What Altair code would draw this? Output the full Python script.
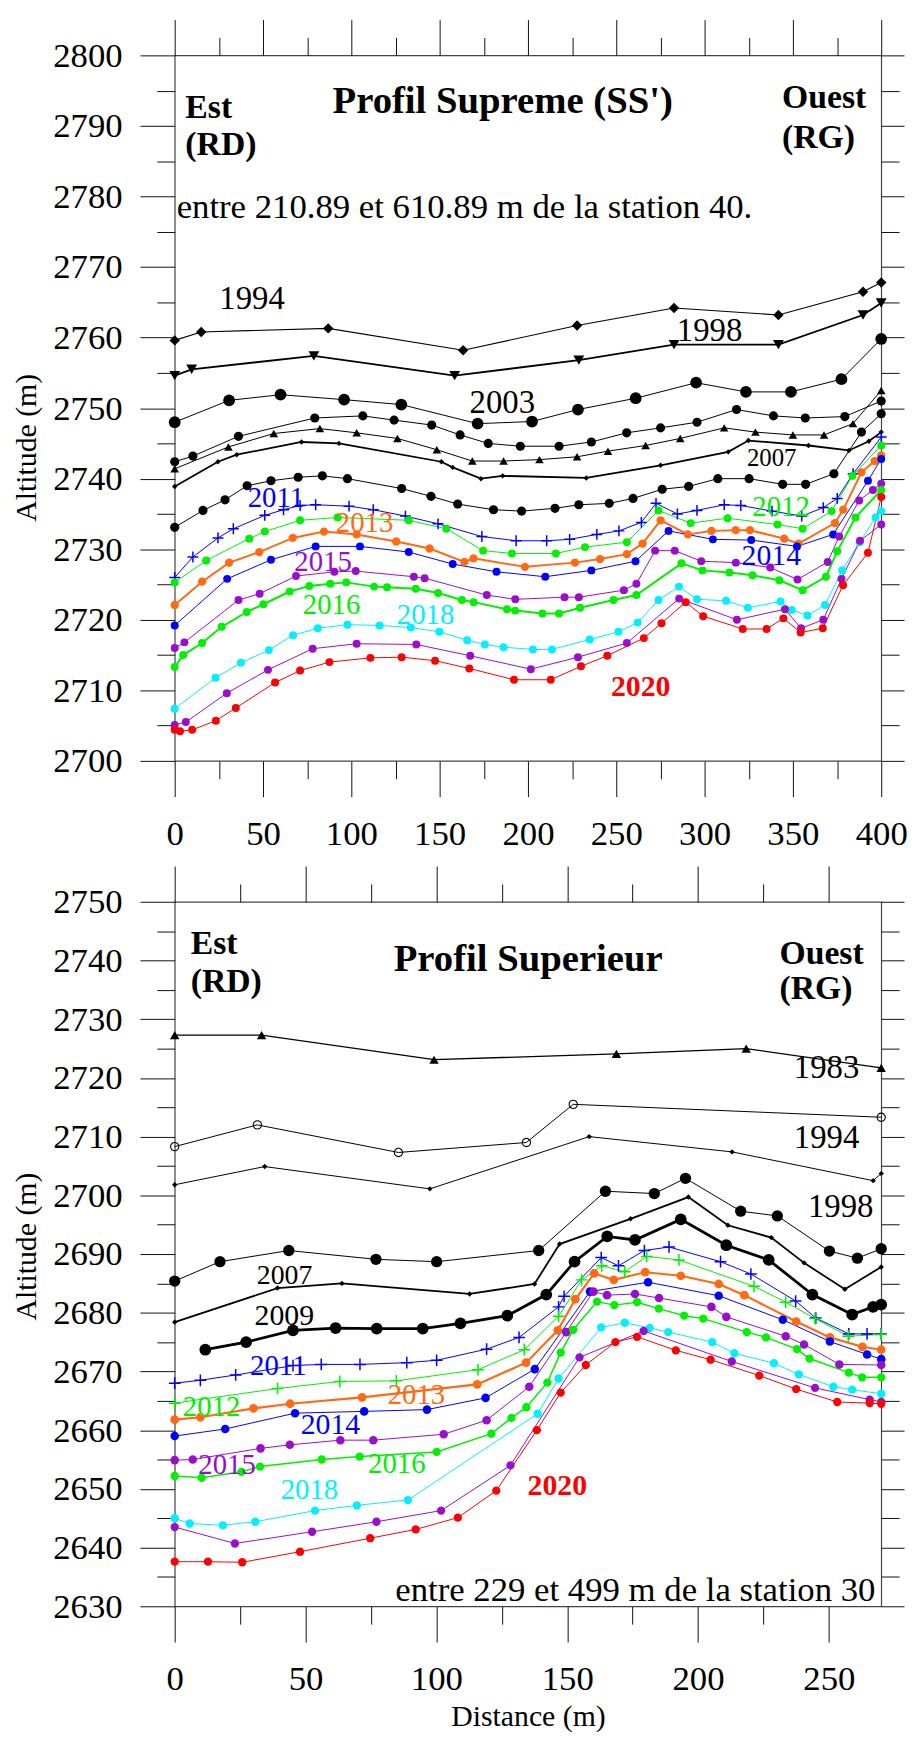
import altair as alt
import pandas as pd

FONT = "Liberation Serif"
BLACK = "#000000"
BLUE = "#0000ff"
GREEN = "#00f000"
ORANGE = "#ff6a13"
PURPLE = "#9a0dcc"
CYAN = "#00f0ff"
RED = "#ff0000"

# ---------------- top panel (Profil Supreme) ----------------
T1994_X = [0, 15.0, 86.9, 163.3, 227.8, 282.7, 341.8, 389.7, 400]
T1994_Y = [2759.6, 2760.8, 2761.3, 2758.2, 2761.7, 2764.2, 2763.2, 2766.5, 2767.8]
T1998_X = [0, 9.6, 78.8, 158.5, 228.8, 282.7, 341.8, 389.7, 400]
T1998_Y = [2754.6, 2755.5, 2757.4, 2754.6, 2756.8, 2759.0, 2759.0, 2763.2, 2764.9]
T2003_X = [0, 30.8, 59.9, 95.9, 128.3, 171.5, 202.3, 228.3, 261.0, 295.2, 323.4, 348.9, 377.5, 400]
T2003_Y = [2748.0, 2751.1, 2751.9, 2751.2, 2750.5, 2747.8, 2748.1, 2749.8, 2751.4, 2753.6, 2752.3, 2752.3, 2754.1, 2759.8]
T2005_X = [0, 10.3, 36.1, 79.3, 106.5, 124.2, 145.5, 161.6, 177.5, 195.7, 217.6, 235.9, 255.9, 275.1, 295.7, 318.1, 339.0, 357.0, 379.4, 400]
T2005_Y = [2742.4, 2743.2, 2746.0, 2748.6, 2748.9, 2748.3, 2747.6, 2746.2, 2745.0, 2744.6, 2744.6, 2745.2, 2746.5, 2747.2, 2748.0, 2749.8, 2748.9, 2748.6, 2748.8, 2751.0]
T2006_X = [0, 30.4, 56.1, 82.2, 103.0, 126.1, 148.4, 168.5, 186.2, 206.5, 227.8, 245.3, 266.6, 286.2, 311.1, 328.8, 350.0, 367.6, 384.0, 400]
T2006_Y = [2741.4, 2744.5, 2746.4, 2747.1, 2746.5, 2745.7, 2744.1, 2742.5, 2742.5, 2742.7, 2743.1, 2743.9, 2744.7, 2745.7, 2747.2, 2746.6, 2746.2, 2746.2, 2747.8, 2752.5]
T2007_X = [0, 24.5, 35.1, 71.8, 93.0, 151.0, 157.4, 173.4, 185.7, 233.0, 275.1, 313.4, 324.8, 358.8, 381.7, 393.0, 400]
T2007_Y = [2738.9, 2742.4, 2743.4, 2745.2, 2745.0, 2742.4, 2741.6, 2740.0, 2740.4, 2740.1, 2741.9, 2743.8, 2745.4, 2744.7, 2744.0, 2745.3, 2746.6]
T2010_X = [0, 16.0, 28.5, 41.0, 54.5, 69.9, 83.6, 97.8, 128.5, 145.1, 160.2, 180.5, 196.4, 215.3, 228.8, 246.0, 259.5, 276.0, 291.0, 307.5, 325.2, 344.2, 357.2, 373.2, 388.8, 400]
T2010_Y = [2733.1, 2735.5, 2737.0, 2739.0, 2739.7, 2740.2, 2740.4, 2740.0, 2738.6, 2737.5, 2736.4, 2735.6, 2735.4, 2735.8, 2736.3, 2736.5, 2737.2, 2738.5, 2738.9, 2740.0, 2740.0, 2739.2, 2739.2, 2740.7, 2746.6, 2749.2]
T2011_X = [0, 10.3, 24.5, 33.2, 51.0, 61.6, 71.0, 79.8, 98.7, 112.4, 130.6, 149.1, 173.9, 193.3, 210.6, 223.6, 239.0, 251.5, 264.2, 272.5, 284.6, 295.7, 311.1, 320.5, 338.2, 355.0, 367.2, 375.1, 384.1, 400]
T2011_Y = [2726.0, 2728.9, 2731.6, 2732.9, 2734.8, 2735.6, 2736.2, 2736.3, 2736.1, 2735.6, 2734.7, 2733.6, 2731.8, 2731.2, 2731.2, 2731.4, 2732.1, 2732.6, 2733.8, 2736.5, 2735.0, 2735.5, 2736.3, 2736.2, 2735.4, 2734.7, 2735.9, 2737.2, 2740.7, 2745.9]
T2012_X = [0, 17.8, 42.2, 51.0, 71.0, 92.3, 132.5, 153.8, 174.6, 190.9, 215.8, 232.3, 256.0, 273.9, 292.1, 313.0, 341.3, 355.5, 371.9, 383.7, 400]
T2012_Y = [2725.3, 2728.4, 2731.5, 2732.5, 2734.1, 2734.5, 2734.1, 2732.9, 2729.8, 2729.4, 2729.4, 2730.3, 2731.0, 2735.5, 2733.7, 2734.4, 2733.5, 2732.9, 2735.4, 2740.4, 2744.7]
T2013_X = [0, 15.5, 30.8, 47.9, 66.8, 84.5, 103.0, 125.4, 144.3, 164.0, 169.2, 198.3, 226.6, 240.8, 256.0, 264.9, 275.1, 290.5, 303.9, 317.6, 325.7, 345.1, 353.2, 373.8, 378.5, 388.8, 396.3, 400]
T2013_Y = [2722.1, 2725.4, 2728.1, 2729.6, 2731.6, 2732.5, 2732.1, 2731.1, 2730.1, 2728.2, 2728.7, 2727.5, 2728.1, 2728.6, 2729.3, 2730.8, 2734.1, 2732.1, 2732.6, 2732.7, 2732.7, 2731.5, 2730.8, 2733.7, 2735.6, 2740.9, 2742.5, 2743.3]
T2014_X = [0, 29.7, 54.5, 79.8, 104.9, 132.5, 157.4, 182.2, 209.8, 235.9, 260.9, 279.6, 304.7, 326.4, 352.3, 372.8, 392.5, 400]
T2014_Y = [2719.2, 2725.8, 2728.5, 2730.4, 2730.4, 2729.6, 2727.9, 2726.8, 2726.1, 2727.0, 2728.3, 2732.6, 2731.4, 2731.3, 2730.4, 2732.1, 2739.7, 2742.8]
T2015_X = [0, 5.5, 36.1, 48.1, 68.7, 90.4, 102.5, 135.4, 141.5, 176.7, 192.8, 220.7, 228.8, 254.3, 261.4, 272.0, 283.1, 298.1, 317.7, 337.2, 352.6, 369.7, 376.2, 387.5, 395.3, 400]
T2015_Y = [2716.0, 2716.8, 2722.8, 2723.7, 2726.2, 2726.8, 2726.9, 2726.1, 2725.9, 2723.5, 2722.9, 2723.2, 2723.2, 2724.2, 2725.1, 2729.8, 2729.8, 2728.3, 2728.1, 2727.4, 2725.7, 2728.2, 2731.8, 2736.9, 2738.4, 2739.3]
T2016_X = [0, 4.8, 15.5, 26.6, 40.8, 50.2, 65.1, 76.2, 88.1, 97.1, 112.9, 120.2, 136.5, 149.1, 162.6, 169.2, 188.1, 192.8, 208.2, 217.6, 229.5, 248.4, 261.4, 286.9, 298.8, 314.0, 327.1, 342.3, 355.5, 368.7, 375.1, 385.4, 400]
T2016_Y = [2713.3, 2715.0, 2716.7, 2719.0, 2721.1, 2722.2, 2724.0, 2724.8, 2725.1, 2725.3, 2724.7, 2724.6, 2724.4, 2723.8, 2722.8, 2722.5, 2721.5, 2721.3, 2720.9, 2720.9, 2721.7, 2722.8, 2723.5, 2728.0, 2727.0, 2726.7, 2726.3, 2725.6, 2724.2, 2726.1, 2729.7, 2734.5, 2738.4]
T2018_X = [0, 23.1, 37.5, 53.3, 67.0, 81.0, 97.8, 116.0, 133.7, 149.8, 165.6, 175.6, 186.2, 202.8, 213.6, 235.0, 251.2, 262.1, 273.9, 285.5, 295.7, 312.2, 324.5, 343.0, 349.4, 358.2, 368.2, 377.9, 387.8, 396.8, 400]
T2018_Y = [2707.4, 2711.8, 2713.9, 2715.7, 2717.8, 2718.8, 2719.3, 2719.2, 2718.9, 2718.3, 2717.1, 2716.5, 2716.1, 2715.8, 2715.8, 2717.2, 2718.3, 2719.6, 2722.8, 2724.7, 2722.9, 2722.7, 2721.7, 2722.6, 2721.4, 2720.6, 2722.1, 2727.0, 2731.0, 2734.5, 2735.4]
T2019_X = [0, 6.3, 29.5, 52.8, 78.1, 103.0, 136.8, 167.3, 201.6, 228.3, 256.0, 285.6, 318.3, 345.5, 354.6, 367.2, 377.5, 388.0, 400]
T2019_Y = [2705.1, 2705.5, 2709.6, 2712.9, 2715.9, 2716.6, 2716.5, 2714.9, 2713.0, 2714.7, 2716.7, 2723.0, 2720.0, 2721.5, 2718.8, 2720.0, 2725.8, 2731.2, 2733.5]
T2020_X = [0, 3.0, 9.9, 23.3, 34.6, 56.8, 71.0, 87.6, 110.8, 128.5, 147.4, 166.8, 192.1, 212.9, 230.0, 244.9, 265.6, 275.6, 289.3, 299.2, 321.6, 335.1, 344.6, 354.4, 366.9, 378.4, 392.5, 400]
T2020_Y = [2704.4, 2704.2, 2704.4, 2705.7, 2707.5, 2711.1, 2712.8, 2714.0, 2714.6, 2714.7, 2714.2, 2713.1, 2711.5, 2711.5, 2713.4, 2714.9, 2717.4, 2719.5, 2722.5, 2720.5, 2718.7, 2718.7, 2720.2, 2718.2, 2718.8, 2724.9, 2729.5, 2737.4]

TOP_NAMES = ["1994", "1998", "2003", "2005", "2006", "2007", "2010", "2011", "2012",
             "2013", "2014", "2015", "2016", "2018", "2019", "2020"]
TOP_XS = [T1994_X, T1998_X, T2003_X, T2005_X, T2006_X, T2007_X, T2010_X, T2011_X, T2012_X,
          T2013_X, T2014_X, T2015_X, T2016_X, T2018_X, T2019_X, T2020_X]
TOP_YS = [T1994_Y, T1998_Y, T2003_Y, T2005_Y, T2006_Y, T2007_Y, T2010_Y, T2011_Y, T2012_Y,
          T2013_Y, T2014_Y, T2015_Y, T2016_Y, T2018_Y, T2019_Y, T2020_Y]
TOP_COLORS = [BLACK, BLACK, BLACK, BLACK, BLACK, BLACK, BLACK, BLUE, GREEN,
              ORANGE, BLUE, PURPLE, GREEN, CYAN, PURPLE, RED]
TOP_WIDTHS = [1.1, 1.8, 1.0, 1.0, 1.0, 1.8, 1.0, 1.0, 1.0, 2.0, 1.0, 1.0, 2.0, 1.0, 1.0, 1.0]
TOP_SHAPES = ["diamond", "triangle-down", "circle", "circle", "triangle-up", "diamond", "circle",
              "plus", "circle", "circle", "circle", "circle", "circle", "circle", "circle", "circle"]
TOP_SIZES = [110, 120, 140, 85, 75, 30, 85, 120, 64, 70, 64, 64, 64, 64, 64, 64]
TOP_FILLED = [True] * 7 + [False] + [True] * 8

TOP_ANN_TEXT = ["Est", "(RD)", "Ouest", "(RG)", "Profil Supreme (SS')",
                "entre 210.89 et 610.89 m de la station 40.",
                "1994", "1998", "2003", "2007", "2011", "2012", "2013", "2014", "2015", "2016", "2018", "2020"]
TOP_ANN_X = [6.0, 6.0, 343.8, 343.8, 185.7, 1.1,
             43.8, 302.8, 185.5, 338.0, 57.3, 343.3, 107.5, 337.8, 84.0, 88.8, 142.0, 263.8]
TOP_ANN_Y = [2792.5, 2787.3, 2794.0, 2788.3, 2793.5, 2778.5,
             2765.4, 2760.9, 2750.7, 2742.9, 2737.3, 2736.0, 2733.7, 2729.0, 2728.2, 2722.1, 2720.6, 2710.5]
TOP_ANN_COLOR = [BLACK] * 6 + [BLACK, BLACK, BLACK, BLACK, BLUE, GREEN, ORANGE, BLUE, PURPLE, GREEN, CYAN, RED]
TOP_ANN_SIZE = [34, 34, 34, 34, 39, 35, 33, 33, 33, 25, 29, 29, 29, 30, 29, 29, 29, 30]
TOP_ANN_BOLD = [True, True, True, True, True, False] + [False] * 11 + [True]
TOP_ANN_ALIGN = ["left", "left", "left", "left", "center", "left"] + ["center"] * 12

# ---------------- bottom panel (Profil Superieur) ----------------
B1983_X = [0, 33.2, 99.1, 168.8, 218.4, 270]
B1983_Y = [2727.3, 2727.3, 2723.1, 2724.1, 2725.0, 2721.7]
B1994_X = [0, 31.6, 85.5, 134.4, 152.3, 270]
B1994_Y = [2708.3, 2712.0, 2707.3, 2709.0, 2715.5, 2713.3]
B1998_X = [0, 34.4, 97.5, 158.4, 213.0, 266.9, 270]
B1998_Y = [2701.8, 2704.9, 2701.1, 2710.0, 2707.4, 2702.5, 2703.7]
B2003_X = [0, 17.3, 43.6, 76.9, 100.1, 139.1, 164.6, 183.3, 195.2, 216.3, 230.3, 250.2, 260.9, 270]
B2003_Y = [2685.4, 2688.7, 2690.6, 2689.1, 2688.7, 2690.6, 2700.7, 2700.3, 2702.9, 2697.3, 2696.5, 2690.5, 2689.3, 2690.9]
B2007_X = [0, 39.3, 63.9, 112.7, 137.5, 147.1, 174.2, 196.3, 211.4, 228.0, 240.5, 256.1, 270]
B2007_Y = [2678.4, 2684.2, 2685.0, 2683.2, 2684.9, 2691.7, 2696.0, 2699.7, 2694.9, 2692.8, 2688.5, 2684.0, 2687.8]
B2009_X = [11.7, 27.3, 45.2, 61.5, 77.2, 94.8, 109.2, 127.1, 142.0, 152.8, 165.3, 175.9, 193.4, 210.8, 227.0, 243.7, 258.9, 266.9, 270]
B2009_Y = [2673.7, 2675.0, 2677.0, 2677.4, 2677.3, 2677.3, 2678.2, 2679.5, 2683.1, 2688.7, 2693.0, 2692.4, 2695.9, 2691.5, 2689.0, 2683.1, 2679.7, 2681.0, 2681.4]
B2011_X = [0, 9.8, 23.3, 45.2, 56.0, 70.8, 88.7, 100.1, 119.2, 131.6, 146.7, 148.8, 163.0, 169.6, 179.5, 188.9, 208.6, 220.2, 237.3, 245.0, 257.6, 264.6, 270]
B2011_Y = [2668.0, 2668.5, 2669.4, 2671.0, 2671.2, 2671.2, 2671.5, 2671.9, 2673.8, 2675.8, 2681.0, 2682.8, 2689.4, 2688.0, 2690.6, 2691.2, 2688.7, 2686.6, 2682.0, 2679.1, 2676.4, 2676.4, 2676.4]
B2012_X = [0, 39.3, 63.1, 84.7, 115.9, 133.6, 146.7, 155.5, 163.2, 172.0, 180.4, 192.7, 221.4, 233.5, 244.7, 257.4, 270]
B2012_Y = [2664.6, 2667.1, 2668.3, 2668.4, 2670.3, 2673.7, 2679.4, 2685.6, 2688.0, 2687.0, 2689.6, 2689.0, 2684.5, 2681.8, 2679.0, 2676.0, 2676.3]
B2013_X = [0, 9.8, 30.1, 44.1, 71.6, 115.6, 134.3, 146.4, 153.1, 160.3, 167.8, 179.8, 193.4, 207.9, 217.7, 237.5, 250.4, 262.8, 270]
B2013_Y = [2661.8, 2662.2, 2663.7, 2664.5, 2665.6, 2667.8, 2671.5, 2677.0, 2682.3, 2686.7, 2685.6, 2686.9, 2686.3, 2684.9, 2683.0, 2678.5, 2675.8, 2674.2, 2673.7]
B2014_X = [0, 19.3, 46.0, 72.4, 96.4, 118.8, 137.6, 158.7, 180.9, 207.9, 232.4, 250.4, 264.6, 270]
B2014_Y = [2659.0, 2660.2, 2662.9, 2663.2, 2663.5, 2665.5, 2670.4, 2683.6, 2685.2, 2682.9, 2678.8, 2675.1, 2672.9, 2672.1]
B2015_X = [0, 6.9, 32.8, 44.0, 63.3, 75.9, 102.8, 119.2, 135.5, 149.6, 160.0, 165.2, 175.9, 185.1, 205.1, 210.8, 233.5, 240.5, 254.0, 270]
B2015_Y = [2654.9, 2655.0, 2656.9, 2657.5, 2658.3, 2658.3, 2659.3, 2661.7, 2667.4, 2676.7, 2683.6, 2683.0, 2683.2, 2682.5, 2681.0, 2679.3, 2676.0, 2674.6, 2671.2, 2671.1]
B2016_X = [0, 10.3, 25.5, 32.6, 56.2, 70.7, 100.1, 121.0, 128.7, 134.4, 142.4, 147.5, 152.3, 161.4, 168.0, 176.7, 185.0, 194.7, 202.0, 218.6, 226.0, 237.8, 242.6, 257.6, 262.7, 270]
B2016_Y = [2652.2, 2651.9, 2652.9, 2653.8, 2655.0, 2655.5, 2656.3, 2659.4, 2662.1, 2663.9, 2668.1, 2673.2, 2677.1, 2681.9, 2681.3, 2681.8, 2680.7, 2679.5, 2679.0, 2676.7, 2675.8, 2673.8, 2672.2, 2669.8, 2669.0, 2669.0]
B2018_X = [0, 5.7, 18.4, 30.8, 53.6, 69.6, 89.1, 138.7, 146.7, 163.0, 172.0, 181.5, 188.6, 205.4, 213.9, 229.0, 238.5, 251.7, 258.9, 270]
B2018_Y = [2645.0, 2644.1, 2643.8, 2644.4, 2646.3, 2647.2, 2648.1, 2662.8, 2668.8, 2677.5, 2678.3, 2677.4, 2676.7, 2675.0, 2673.1, 2671.4, 2669.5, 2667.4, 2666.9, 2666.2]
B2019_X = [0, 23.0, 52.5, 77.1, 101.8, 128.3, 154.7, 179.2, 212.9, 244.7, 265.6, 270]
B2019_Y = [2643.5, 2640.7, 2642.7, 2644.4, 2646.3, 2654.0, 2672.4, 2676.9, 2671.7, 2667.2, 2665.2, 2664.8]
B2020_X = [0, 12.7, 25.8, 47.9, 74.7, 92.1, 108.2, 122.9, 138.4, 147.5, 157.1, 168.4, 176.7, 191.5, 204.8, 223.4, 237.5, 253.2, 265.6, 270]
B2020_Y = [2637.6, 2637.6, 2637.5, 2639.3, 2641.6, 2643.1, 2645.1, 2649.7, 2660.0, 2666.4, 2671.1, 2675.0, 2675.9, 2673.6, 2672.0, 2669.3, 2667.0, 2664.8, 2664.6, 2664.5]

BOT_NAMES = ["1983", "1994", "1998", "2003", "2007", "2009", "2011", "2012",
             "2013", "2014", "2015", "2016", "2018", "2019", "2020"]
BOT_XS = [B1983_X, B1994_X, B1998_X, B2003_X, B2007_X, B2009_X, B2011_X, B2012_X,
          B2013_X, B2014_X, B2015_X, B2016_X, B2018_X, B2019_X, B2020_X]
BOT_YS = [B1983_Y, B1994_Y, B1998_Y, B2003_Y, B2007_Y, B2009_Y, B2011_Y, B2012_Y,
          B2013_Y, B2014_Y, B2015_Y, B2016_Y, B2018_Y, B2019_Y, B2020_Y]
BOT_COLORS = [BLACK, BLACK, BLACK, BLACK, BLACK, BLACK, BLUE, GREEN,
              ORANGE, BLUE, PURPLE, GREEN, CYAN, PURPLE, RED]
BOT_WIDTHS = [1.3, 1.0, 1.0, 1.0, 1.8, 2.8, 1.0, 1.0, 2.2, 1.0, 1.0, 1.5, 1.0, 1.0, 1.0]
BOT_SHAPES = ["triangle-up", "circle", "diamond", "circle", "diamond", "circle", "plus", "plus",
              "circle", "circle", "circle", "circle", "circle", "circle", "circle"]
BOT_SIZES = [90, 70, 30, 130, 30, 140, 140, 140, 78, 74, 74, 70, 70, 70, 70]
BOT_FILLED = [True, False, True, True, True, True, False, False] + [True] * 7

BOT_ANN_TEXT = ["Est", "(RD)", "Ouest", "(RG)", "Profil Superieur",
                "entre 229 et 499 m de la station 30",
                "1983", "1994", "1998", "2007", "2009", "2011", "2012", "2013", "2014", "2015", "2016", "2018", "2020"]
BOT_ANN_X = [6.1, 6.1, 231.1, 231.1, 135.1, 267.8,
             249.1, 249.1, 254.5, 42.0, 41.9, 39.6, 14.1, 92.4, 59.5, 20.0, 84.9, 51.5, 146.2]
BOT_ANN_Y = [2742.8, 2736.3, 2741.1, 2735.2, 2740.2, 2632.7,
             2721.6, 2709.8, 2698.0, 2686.2, 2679.4, 2671.0, 2663.9, 2665.9, 2660.8, 2654.0, 2654.3, 2649.8, 2650.4]
BOT_ANN_COLOR = [BLACK] * 6 + [BLACK, BLACK, BLACK, BLACK, BLACK, BLUE, GREEN, ORANGE, BLUE, PURPLE, GREEN, CYAN, RED]
BOT_ANN_SIZE = [34, 34, 34, 34, 39, 35, 33, 33, 33, 28, 30, 29, 29, 29, 30, 29, 29, 29, 30]
BOT_ANN_BOLD = [True, True, True, True, True, False] + [False] * 12 + [True]
BOT_ANN_ALIGN = ["left", "left", "left", "left", "center", "right"] + ["center"] * 13

PLUS = "M-1,0L1,0M0,-1L0,1"


def panel(names, xs, ys, colors, widths, shapes, sizes, filled,
          ann_text, ann_x, ann_y, ann_color, ann_size, ann_bold, ann_align,
          xdom, ydom, xmajor, xminor, ymajor, yminor, xtitle, w, h, ytitle_y):
    rows = []
    for n, xx, yy in zip(names, xs, ys):
        for i, (a, b) in enumerate(zip(xx, yy)):
            rows.append({"s": n, "x": a, "y": b, "i": i})
    df = pd.DataFrame(rows)
    xsc = alt.Scale(domain=xdom, nice=False, zero=False)
    ysc = alt.Scale(domain=ydom, nice=False, zero=False)
    base = alt.Chart(df)

    def tick_axis(orient, values, size, labels=False, title=None, extra=None):
        kw = dict(orient=orient, values=values, tickSize=size, tickColor="#111",
                  tickWidth=1, domain=False, grid=False, labels=labels, title=title)
        if labels:
            kw.update(labelFont=FONT, labelFontSize=35, labelColor="#000", format="d",
                      labelFlush=False, labelOverlap=False, labelBound=False)
        if title:
            kw.update(titleFont=FONT, titleFontWeight="normal", titleColor="#000")
        if extra:
            kw.update(extra)
        return alt.Axis(**kw)

    xextra = dict(labelPadding=20)
    if xtitle:
        xextra.update(titleFontSize=30, titleY=111, titleBaseline="middle")
    yextra = dict(labelPadding=18, titleFontSize=30, titlePadding=11, titleY=ytitle_y)

    layers = []
    ax_specs = [
        (tick_axis("bottom", xmajor, 36, True, xtitle, xextra),
         tick_axis("left", ymajor, 35, True, "Altitude (m)", yextra)),
        (tick_axis("top", xmajor, 36), tick_axis("left", yminor, 18)),
        (tick_axis("top", xminor, 18), tick_axis("right", ymajor, 23)),
        (tick_axis("bottom", xminor, 18), tick_axis("right", yminor, 18)),
    ]
    for xa, ya in ax_specs:
        layers.append(base.mark_point(opacity=0, size=1).encode(
            x=alt.X("x:Q", scale=xsc, axis=xa), y=alt.Y("y:Q", scale=ysc, axis=ya)))

    for n, c, wd in zip(names, colors, widths):
        layers.append(base.transform_filter(alt.datum.s == n).mark_line(
            color=c, strokeWidth=wd).encode(
            x=alt.X("x:Q", scale=xsc, axis=None), y=alt.Y("y:Q", scale=ysc, axis=None),
            order=alt.Order("i:Q")))

    for n, c, sh, sz, f in zip(names, colors, shapes, sizes, filled):
        shape = PLUS if sh == "plus" else sh
        if f:
            mk = dict(shape=shape, filled=True, color=c, size=sz, opacity=1)
        else:
            mk = dict(shape=shape, filled=False, color=c, size=sz, opacity=1,
                      strokeWidth=1.5 if sh == "plus" else 1.1)
        layers.append(base.transform_filter(alt.datum.s == n).mark_point(**mk).encode(
            x=alt.X("x:Q", scale=xsc, axis=None), y=alt.Y("y:Q", scale=ysc, axis=None)))

    for t, ax, ay, c, fs, b, al in zip(ann_text, ann_x, ann_y, ann_color, ann_size, ann_bold, ann_align):
        d = pd.DataFrame({"t": [t], "x": [ax], "y": [ay]})
        layers.append(alt.Chart(d).mark_text(
            font=FONT, fontSize=fs, fontWeight="bold" if b else "normal", color=c,
            align=al, baseline="middle").encode(
            x=alt.X("x:Q", scale=xsc, axis=None), y=alt.Y("y:Q", scale=ysc, axis=None),
            text="t:N"))

    return alt.layer(*layers).resolve_axis(x="independent", y="independent").properties(
        width=w, height=h)


top = panel(TOP_NAMES, TOP_XS, TOP_YS, TOP_COLORS, TOP_WIDTHS, TOP_SHAPES, TOP_SIZES, TOP_FILLED,
            TOP_ANN_TEXT, TOP_ANN_X, TOP_ANN_Y, TOP_ANN_COLOR, TOP_ANN_SIZE, TOP_ANN_BOLD, TOP_ANN_ALIGN,
            [0, 400], [2700, 2800],
            list(range(0, 401, 50)), list(range(25, 400, 50)),
            list(range(2700, 2801, 10)), list(range(2705, 2800, 10)),
            None, 712, 711, 395)

bottom = panel(BOT_NAMES, BOT_XS, BOT_YS, BOT_COLORS, BOT_WIDTHS, BOT_SHAPES, BOT_SIZES, BOT_FILLED,
               BOT_ANN_TEXT, BOT_ANN_X, BOT_ANN_Y, BOT_ANN_COLOR, BOT_ANN_SIZE, BOT_ANN_BOLD, BOT_ANN_ALIGN,
               [0, 270], [2630, 2750],
               list(range(0, 251, 50)), list(range(25, 270, 50)),
               list(range(2630, 2751, 10)), list(range(2635, 2750, 10)),
               "Distance (m)", 712, 710, 347)

chart = alt.vconcat(top, bottom, spacing=12).properties(
    padding={"left": 3, "top": 3, "right": 0, "bottom": 0},
    background="white",
).configure_view(stroke="#444", strokeWidth=1.2).configure_axis(grid=False)

chart.save("out.html", embed_options={"renderer": "svg", "actions": False})
